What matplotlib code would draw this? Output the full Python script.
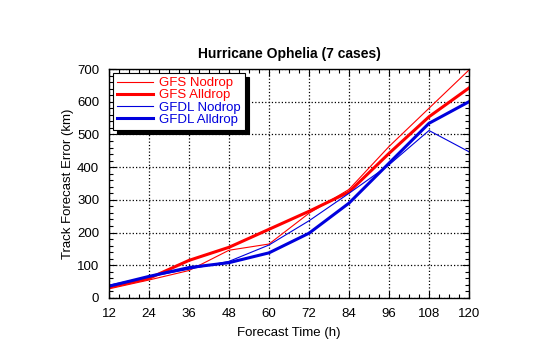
import matplotlib
matplotlib.use('Agg')
import matplotlib.pyplot as plt
from matplotlib.ticker import MultipleLocator

plt.rcParams['font.family'] = ['Liberation Sans', 'DejaVu Sans']

hours = [12, 24, 36, 48, 60, 72, 84, 96, 108, 120]
gfs_nodrop = [28, 55, 84, 146, 165, 259, 332, 463, 580, 697]
gfs_alldrop = [33, 60, 115, 155, 210, 265, 324, 442, 554, 642]
gfdl_nodrop = [39, 65, 88, 112, 162, 236, 320, 407, 512, 447]
gfdl_alldrop = [36, 66, 93, 108, 138, 198, 290, 412, 534, 600]

red = '#ff0000'
blue = '#0000dd'

fig = plt.figure(figsize=(5.4, 3.44), dpi=100)
ax = fig.add_axes([109/540, 1-298/344, 360/540, 229/344])

ax.plot(hours, gfs_nodrop, color=red, lw=0.8, label='GFS Nodrop')
ax.plot(hours, gfs_alldrop, color=red, lw=2.2, label='GFS Alldrop')
ax.plot(hours, gfdl_nodrop, color=blue, lw=0.8, label='GFDL Nodrop')
ax.plot(hours, gfdl_alldrop, color=blue, lw=2.2, label='GFDL Alldrop')

ax.set_xlim(12, 120)
ax.set_ylim(0, 700)
ax.set_xticks(hours)
ax.xaxis.set_minor_locator(MultipleLocator(3))
ax.yaxis.set_major_locator(MultipleLocator(100))
ax.yaxis.set_minor_locator(MultipleLocator(20))
ax.tick_params(which='both', direction='in', top=True, right=True, labelsize=9.5, colors='black')
ax.tick_params(which='major', length=5, width=0.8)
ax.tick_params(which='minor', length=3, width=0.8)
ax.tick_params(axis='x', which='major', pad=7)
ax.tick_params(axis='y', which='major', pad=7)
ax.grid(True, which='major', color='black', linestyle=':', linewidth=0.9)
for s in ax.spines.values():
    s.set_linewidth(1.0)

ax.set_xlabel('Forecast Time (h)', fontsize=9.5, labelpad=5)
ax.set_ylabel('Track Forecast Error (km)', fontsize=9.5, labelpad=2)
ax.set_title('Hurricane Ophelia (7 cases)', fontsize=10, fontweight='bold', pad=8)

leg = ax.legend(loc='upper left', fontsize=9.5, labelcolor='linecolor', fancybox=False,
                edgecolor='black', framealpha=1, handlelength=2.7, handletextpad=0.5,
                borderpad=0.3, labelspacing=0.0, borderaxespad=0.3,
                shadow={'color': 'black', 'alpha': 1, 'ox': 3, 'oy': -3})
leg.get_frame().set_linewidth(0.8)

fig.savefig('out.png', dpi=100)
